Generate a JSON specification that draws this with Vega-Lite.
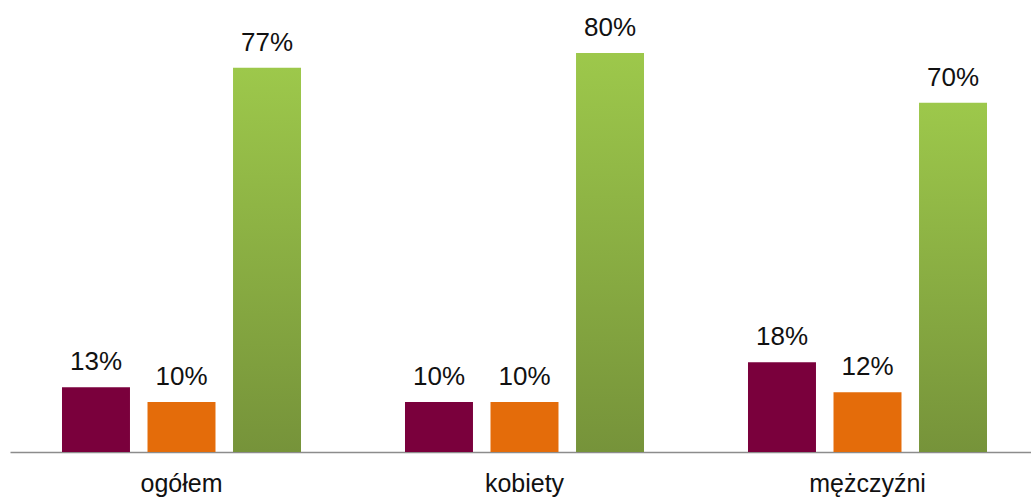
{
  "$schema": "https://vega.github.io/schema/vega-lite/v6.json",
  "autosize": "none",
  "padding": {"left": 10, "top": 3, "right": 0, "bottom": 46},
  "width": 1029,
  "height": 449,
  "background": "white",
  "config": {"view": {"stroke": null}, "font": "Liberation Sans"},
  "data": {
    "values": [
      {"group": "ogółem", "series": "s1", "value": 0.13},
      {"group": "ogółem", "series": "s2", "value": 0.10},
      {"group": "ogółem", "series": "s3", "value": 0.77},
      {"group": "kobiety", "series": "s1", "value": 0.10},
      {"group": "kobiety", "series": "s2", "value": 0.10},
      {"group": "kobiety", "series": "s3", "value": 0.80},
      {"group": "mężczyźni", "series": "s1", "value": 0.18},
      {"group": "mężczyźni", "series": "s2", "value": 0.12},
      {"group": "mężczyźni", "series": "s3", "value": 0.70}
    ]
  },
  "encoding": {
    "x": {
      "field": "group", "type": "nominal", "sort": null,
      "scale": {"paddingInner": 0, "paddingOuter": 0},
      "axis": {
        "title": null, "labelAngle": 0, "ticks": false, "tickSize": 0,
        "labelFontSize": 25, "labelColor": "#111111", "labelFont": "Liberation Sans",
        "labelBaseline": "alphabetic", "labelPadding": 39,
        "domainColor": "#8C8C8C", "domainWidth": 1.5, "grid": false
      }
    },
    "xOffset": {
      "field": "series", "type": "nominal", "sort": ["s1", "s2", "s3"],
      "scale": {"paddingInner": 0.205, "paddingOuter": 0.608}
    },
    "y": {
      "field": "value", "type": "quantitative",
      "scale": {"domain": [0, 0.9]},
      "axis": null
    }
  },
  "layer": [
    {
      "transform": [{"filter": "datum.series !== 's3'"}],
      "mark": {"type": "bar"},
      "encoding": {
        "color": {
          "field": "series", "type": "nominal",
          "scale": {"domain": ["s1", "s2"], "range": ["#7A003C", "#E46C0A"]},
          "legend": null
        }
      }
    },
    {
      "transform": [{"filter": "datum.series === 's3'"}],
      "mark": {
        "type": "bar",
        "fill": {
          "gradient": "linear", "x1": 0, "y1": 0, "x2": 0, "y2": 1,
          "stops": [
            {"offset": 0, "color": "#9DC84B"},
            {"offset": 1, "color": "#76933A"}
          ]
        }
      }
    },
    {
      "mark": {
        "type": "text", "baseline": "alphabetic", "dy": -17,
        "fontSize": 26, "color": "#111111", "font": "Liberation Sans"
      },
      "encoding": {
        "text": {"field": "value", "type": "quantitative", "format": ".0%"}
      }
    }
  ]
}
